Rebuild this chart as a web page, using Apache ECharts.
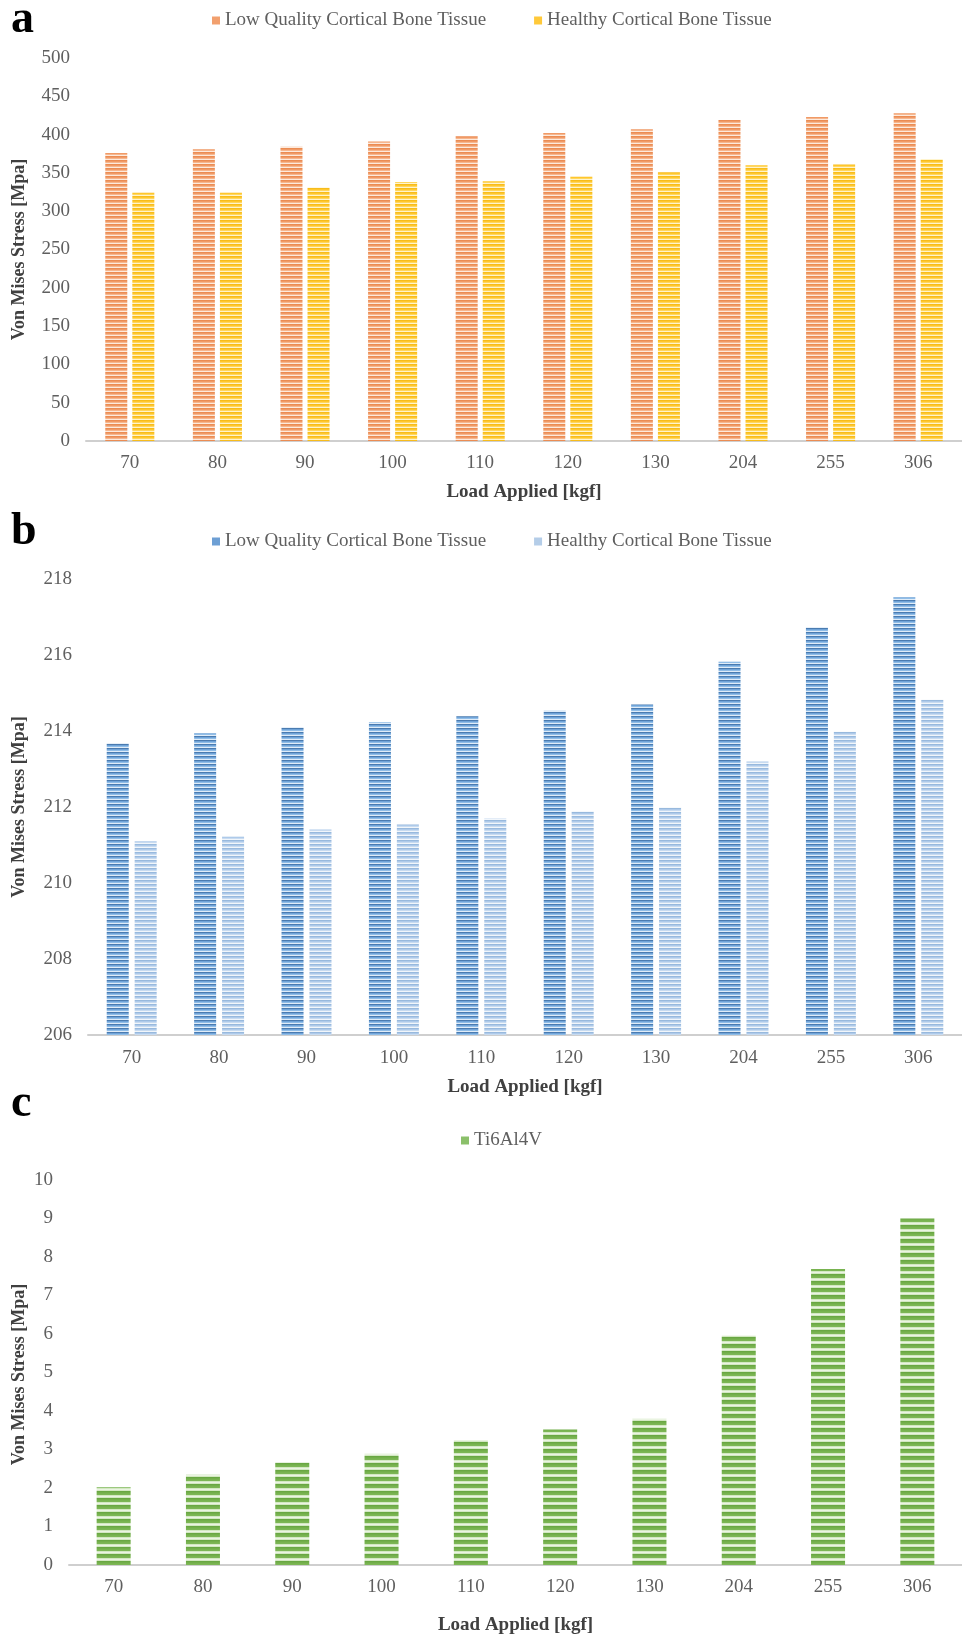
<!DOCTYPE html>
<html>
<head>
<meta charset="utf-8">
<script src="https://cdn.jsdelivr.net/npm/echarts@6/dist/echarts.min.js"></script>
<style>
  html, body { margin: 0; padding: 0; background: #fff; }
  #chart { width: 962px; height: 1636px; }
</style>
</head>
<body>
<div id="chart"></div>
<script>
// ---- data ----
const categories = ['70', '80', '90', '100', '110', '120', '130', '204', '255', '306'];
const lowQualityA = [376, 381, 384, 391, 398, 402, 407, 419, 423, 428];
const healthyA = [324, 324, 331, 338, 339, 345, 351, 360, 361, 368];
const lowQualityB = [213.68, 213.94, 214.10, 214.23, 214.39, 214.53, 214.70, 215.82, 216.73, 217.52];
const healthyB = [211.10, 211.22, 211.41, 211.54, 211.70, 211.89, 211.99, 213.20, 213.98, 214.82];
const ti6al4v = [2.02, 2.35, 2.66, 2.89, 3.25, 3.52, 3.80, 5.96, 7.69, 9.00];
const seriesNames = ['Low Quality Cortical Bone Tissue', 'Healthy Cortical Bone Tissue', 'Ti6Al4V'];
const axisTitleX = 'Load Applied [kgf]';
const axisTitleY = 'Von Mises Stress [Mpa]';

// ---- styling helpers ----
const FONT = "'Liberation Serif', 'Times New Roman', serif";
function stripes(rows) {
  const c = document.createElement('canvas');
  c.width = 8; c.height = rows.length;
  const ctx = c.getContext('2d');
  rows.forEach((col, i) => { ctx.fillStyle = col; ctx.fillRect(0, i, 8, 1); });
  return { image: c, repeat: 'repeat' };
}
const pOrange = stripes(['#EB8C53', '#F09A66', '#F6B68E', '#FDEADC']);
const pYellow = stripes(['#F7BC1C', '#FFC72C', '#FFD65E', '#FFF4CC']);
const pBlue = stripes(['#4A7BB0', '#6FA3D8', '#90BDE7', '#E0ECF8']);
const pLightBlue = stripes(['#98B9DD', '#AECAEA', '#C8DBF0', '#F1F6FB']);
const pGreen = stripes(['#69A743', '#72AE4A', '#78B350', '#7CB655', '#D3E8C2', '#EAF4E1', '#D3E8C2']);

const grids = [
  { left: 86, top: 58, width: 883, height: 383 },
  { left: 88, top: 579, width: 879, height: 456 },
  { left: 69, top: 1180, width: 901, height: 389 }
];
const nameGaps = [42, 43, 51];
const labelMargins = [13, 14, 13];

const xAxes = grids.map((g, i) => ({
  type: 'category', gridIndex: i, data: categories,
  axisLine: { show: true, lineStyle: { color: '#CFCFCF', width: 2 } },
  axisTick: { show: false },
  axisLabel: { color: '#5f5f5f', fontSize: 19, fontFamily: FONT, margin: labelMargins[i] },
  name: axisTitleX, nameLocation: 'middle', nameGap: nameGaps[i],
  nameTextStyle: { color: '#404040', fontSize: 19, fontWeight: 'bold', fontFamily: FONT }
}));
const yRanges = [[0, 500, 50], [206, 218, 2], [0, 10, 1]];
const yAxes = yRanges.map((r, i) => ({
  type: 'value', gridIndex: i, min: r[0], max: r[1], interval: r[2],
  axisLine: { show: false }, axisTick: { show: false },
  splitLine: { show: false },
  axisLabel: { color: '#5f5f5f', fontSize: 19, fontFamily: FONT, margin: 16 }
}));

const titleGraphics = [];
grids.forEach((g, i) => {
  titleGraphics.push({
    type: 'text', x: 19, y: g.top + g.height / 2, rotation: Math.PI / 2,
    style: { text: axisTitleY, fill: '#404040', font: 'bold 18px ' + FONT, align: 'center', verticalAlign: 'middle' }
  });
});
[['a', 20], ['b', 532], ['c', 1104]].forEach(([t, y]) => {
  titleGraphics.push({
    type: 'text', x: 11, y: y,
    style: { text: t, fill: '#000', font: 'bold 46px ' + FONT, align: 'left', verticalAlign: 'middle' }
  });
});

const legendBase = {
  orient: 'horizontal', icon: 'rect', itemWidth: 8, itemHeight: 8, itemGap: 48,
  textStyle: { color: '#5f5f5f', fontSize: 19, fontFamily: FONT },
  selectedMode: false
};

const option = {
  animation: false,
  backgroundColor: '#ffffff',
  grid: grids,
  xAxis: xAxes,
  yAxis: yAxes,
  legend: [
    Object.assign({}, legendBase, { left: 207, top: 6, data: [
      { name: seriesNames[0], itemStyle: { color: '#F2A06E' } },
      { name: seriesNames[1], itemStyle: { color: '#FFC93A' } }] }),
    Object.assign({}, legendBase, { left: 207, top: 527, data: [
      { name: seriesNames[0], itemStyle: { color: '#6D9FD4' } },
      { name: seriesNames[1], itemStyle: { color: '#B4CDE8' } }] }),
    Object.assign({}, legendBase, { left: 456, top: 1126, data: [
      { name: seriesNames[2], itemStyle: { color: '#8BC06A' } }] })
  ],
  graphic: titleGraphics,
  series: [
    { name: seriesNames[0], type: 'bar', xAxisIndex: 0, yAxisIndex: 0, data: lowQualityA,
      barWidth: 22, barGap: '23%', itemStyle: { color: pOrange } },
    { name: seriesNames[1], type: 'bar', xAxisIndex: 0, yAxisIndex: 0, data: healthyA,
      barWidth: 22, barGap: '23%', itemStyle: { color: pYellow } },
    { name: seriesNames[0], type: 'bar', xAxisIndex: 1, yAxisIndex: 1, data: lowQualityB,
      barWidth: 22, barGap: '27%', itemStyle: { color: pBlue } },
    { name: seriesNames[1], type: 'bar', xAxisIndex: 1, yAxisIndex: 1, data: healthyB,
      barWidth: 22, barGap: '27%', itemStyle: { color: pLightBlue } },
    { name: seriesNames[2], type: 'bar', xAxisIndex: 2, yAxisIndex: 2, data: ti6al4v,
      barWidth: 34, itemStyle: { color: pGreen } }
  ]
};

const chart = echarts.init(document.getElementById('chart'), null, { renderer: 'canvas' });
chart.setOption(option);
</script>
</body>
</html>
